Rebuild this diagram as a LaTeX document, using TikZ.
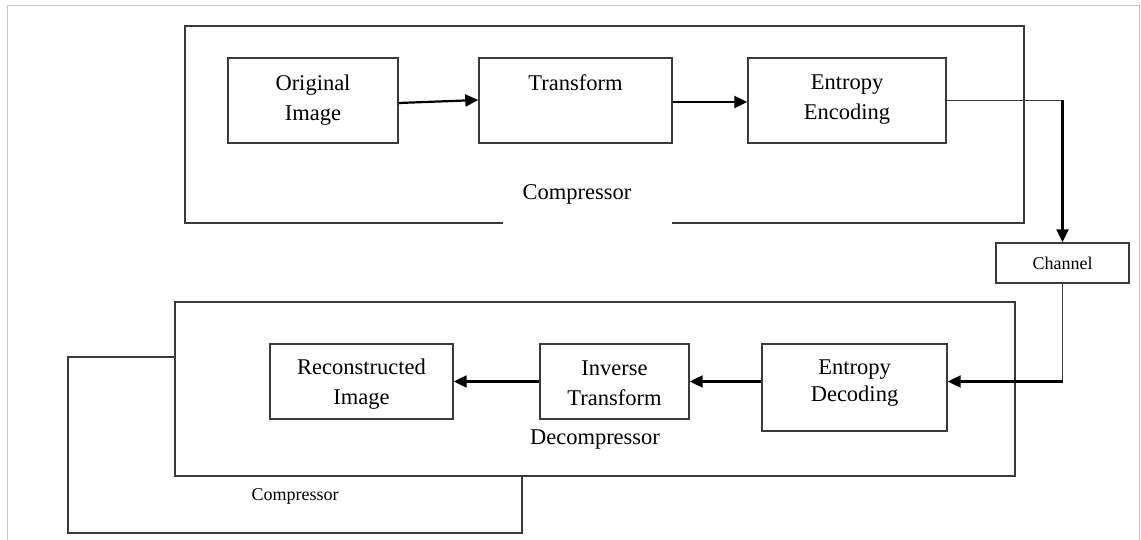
\documentclass[tikz,border=0pt]{standalone}
\usepackage{fontspec}
\setmainfont{Liberation Serif}
\usetikzlibrary{arrows.meta,calc}
\definecolor{boxgray}{HTML}{3A3A3A}
\definecolor{framegray}{HTML}{C4C4C4}
\begin{document}
\begin{tikzpicture}[x=1pt,y=-1pt,
  box/.style={draw=boxgray, line width=1.4pt, fill=white, inner sep=0pt},
  bigtext/.style={font=\fontsize{22.5pt}{30pt}\selectfont, align=center, inner sep=0pt},
  smalltext/.style={font=\fontsize{18pt}{22pt}\selectfont, align=center, inner sep=0pt},
  wire/.style={draw=boxgray, line width=1.4pt},
  flow/.style={draw=black, line width=2.2pt, -{Triangle[length=13pt,width=12pt]}}]
\useasboundingbox (0,0) rectangle (1141,540);
\fill[white] (0,0) rectangle (1141,540);

% outer page frame
\draw[framegray, line width=1pt] (7,540) -- (7,6) -- (1139,6) -- (1139,540);

% second compressor outline, partly covered by the decompressor
\node[box, minimum width=454pt, minimum height=176pt] (comptwo) at (295,445) {};
\node[smalltext] (comptwolabel) at (295,496) {Compressor};

% decompressor container
\node[box, minimum width=840pt, minimum height=174pt] (decomp) at (595,389) {};
\node[bigtext] (decomplabel) at (595,440) {Decompressor};

% compressor container, open along part of its lower edge
\draw[wire] (503,223) -- (185,223) -- (185,26) -- (1024,26) -- (1024,223) -- (672,223);
\node[bigtext] (complabel) at (577,194) {Compressor};

% compression stages
\node[box, minimum width=170pt, minimum height=85pt] (orig) at (313,100.5) {};
\node[bigtext] (origtext) at (313,100) {Original\\Image};
\node[box, minimum width=193pt, minimum height=85pt] (trans) at (575.5,100.5) {};
\node[bigtext] (transtext) at (575.5,83) {Transform};
\node[box, minimum width=198pt, minimum height=85pt] (enc) at (847,100.5) {};
\node[bigtext] (enctext) at (847,100) {Entropy\\Encoding};

% channel
\node[box, minimum width=133pt, minimum height=40pt, smalltext] (chan) at (1062.5,263) {Channel};

% decompression stages
\node[box, minimum width=185pt, minimum height=87pt] (dec) at (854.5,387.5) {};
\node[bigtext, font=\fontsize{22.5pt}{27pt}\selectfont] (dectext) at (854.5,383) {Entropy\\Decoding};
\node[box, minimum width=149pt, minimum height=75pt] (inv) at (614.5,381.5) {};
\node[bigtext] (invtext) at (614.5,383) {Inverse\\Transform};
\node[box, minimum width=183pt, minimum height=75pt] (rec) at (361.5,381.5) {};
\node[bigtext] (rectext) at (361.5,384.5) {Reconstructed\\Image};

% corners of the channel route
\coordinate (cone) at (enc.east -| chan.north);
\coordinate (ctwo) at (chan.south |- inv.east);

% connectors
\draw[flow] ([yshift=-2.5pt]orig.east) -- ([yshift=0.5pt]trans.west);
\draw[flow] ([yshift=-1.5pt]trans.east) -- ([yshift=-1.5pt]enc.west);
\draw[wire] (enc.east) -- (cone);
\draw[flow] (cone) -- (chan.north);
\draw[wire] (chan.south) -- (ctwo);
\draw[flow] (ctwo) -- (ctwo -| dec.east);
\draw[flow] (dec.west |- inv.east) -- (inv.east);
\draw[flow] (inv.west) -- (rec.east);
\end{tikzpicture}
\end{document}
